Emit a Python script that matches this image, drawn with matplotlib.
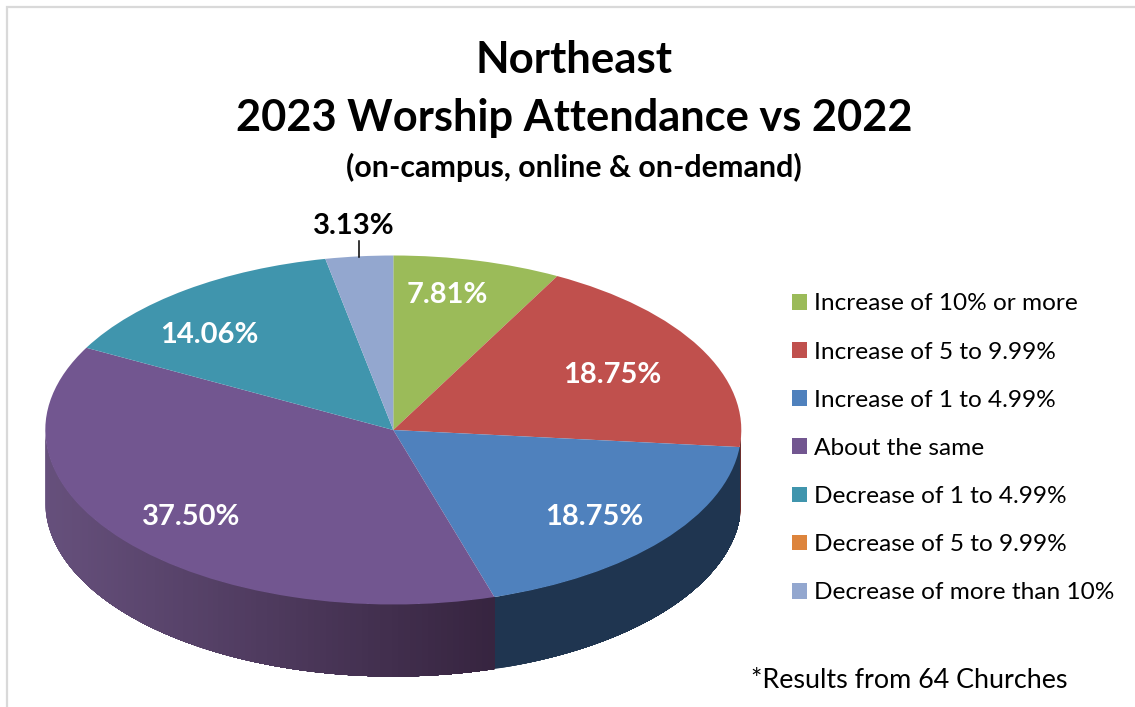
import numpy as np
import matplotlib
matplotlib.use("Agg")
import matplotlib.pyplot as plt
from matplotlib.colors import to_rgb
from matplotlib.patches import Patch

plt.rcParams['font.family'] = ['Lato', 'DejaVu Sans']

# Data
categories = ["Increase of 10% or more", "Increase of 5 to 9.99%", "Increase of 1 to 4.99%",
              "About the same", "Decrease of 1 to 4.99%", "Decrease of 5 to 9.99%",
              "Decrease of more than 10%"]
values = [7.81, 18.75, 18.75, 37.50, 14.06, 0, 3.13]
colors = ["#9BBB59", "#C0504D", "#4F81BD", "#725690", "#4095AD", "#DD843C", "#93A7CF"]

# Side wall shading, left colour and right colour
side_left = ["#5c7035", "#6e2f2d", "#1f3550", "#66507c", "#25596a", "#8a5225", "#56647f"]
side_right = ["#5c7035", "#6e2f2d", "#1f3550", "#36243f", "#25596a", "#8a5225", "#56647f"]

# Layout in pixels of the reference
W, H = 1135, 707
cx, cy, rx, ry, depth = 393.3, 430, 348, 174.5, 72

fig = plt.figure(figsize=(W / 100, H / 100), dpi=100, facecolor="white")

# Pie axes: a unit pie squashed into the ellipse
ax = fig.add_axes([(cx - rx) / W, (H - cy - ry - depth) / H, 2 * rx / W, (2 * ry + depth) / H])
wedges, _ = ax.pie(values, colors=colors, startangle=90, counterclock=False, radius=1,
                   wedgeprops={"linewidth": 0})
ax.set_aspect("auto")
ax.set_xlim(-1, 1)
ax.set_ylim(-1 - depth / ry, 1)

# Side wall, overlapping strips drawn left to right so no seams show
d = depth / ry
for w, c1, c2 in zip(wedges, side_left, side_right):
    if w.theta2 - w.theta1 <= 0:
        continue
    ang = np.radians(np.arange(w.theta1, w.theta2, 1.0).tolist() + [w.theta2])
    ang = ang[np.sin(ang) <= 0.001]
    if len(ang) < 2:
        continue
    ang = ang[np.argsort(np.cos(ang))]
    xs = np.cos(ang)
    ys = np.sin(ang)
    c1, c2 = np.array(to_rgb(c1)), np.array(to_rgb(c2))
    for i in range(len(ang) - 1):
        f = (xs[i] - xs.min()) / max(xs.max() - xs.min(), 1e-6)
        px = xs[i:]
        py = ys[i:]
        ax.fill(np.r_[px, px[::-1]], np.r_[py, py[::-1] - d], color=c1 + (c2 - c1) * f, lw=0, zorder=0.5)

# Overlay in pixel coordinates for the text
ov = fig.add_axes([0, 0, 1, 1], facecolor="none")
ov.set_xlim(0, W)
ov.set_ylim(H, 0)
ov.axis("off")

# Light frame round the chart
ov.plot([6.5, 6.5, W], [H, 7, 7], color="#d9d9d9", lw=1.6, solid_joinstyle="miter")

ov.text(574, 60, "Northeast", ha="center", va="center", fontsize=31.5, fontweight="bold")
ov.text(574, 118, "2023 Worship Attendance vs 2022", ha="center", va="center", fontsize=31.2, fontweight="bold")
ov.text(574, 167, "(on-campus, online & on-demand)", ha="center", va="center", fontsize=21.9, fontweight="bold")

# Value labels
label_x = [447, 612, 594, 191, 209, 354]
label_y = [295, 375, 517, 517, 335, 226]
shown = [v for v in values if v > 0]
for i, (v, x, y) in enumerate(zip(shown, label_x, label_y)):
    ov.text(x, y, f"{v:.2f}%", ha="center", va="center", fontsize=21, fontweight="bold",
            color="black" if i == len(shown) - 1 else "white")
ov.plot([358.7, 358.7], [241, 257], color="black", lw=1.1)

# Legend
handles = [Patch(facecolor=c, edgecolor="none") for c in colors]
ov.legend(handles, categories, loc="upper left", bbox_to_anchor=(792 / W, 1 - 293.5 / H), frameon=False,
          fontsize=17.6, labelspacing=1.11, handlelength=0.62, handleheight=0.62, handletextpad=0.3,
          borderpad=0, borderaxespad=0)

ov.text(751, 681, "*Results from 64 Churches", ha="left", va="center", fontsize=19.4)

fig.savefig("out.png", dpi=100)
